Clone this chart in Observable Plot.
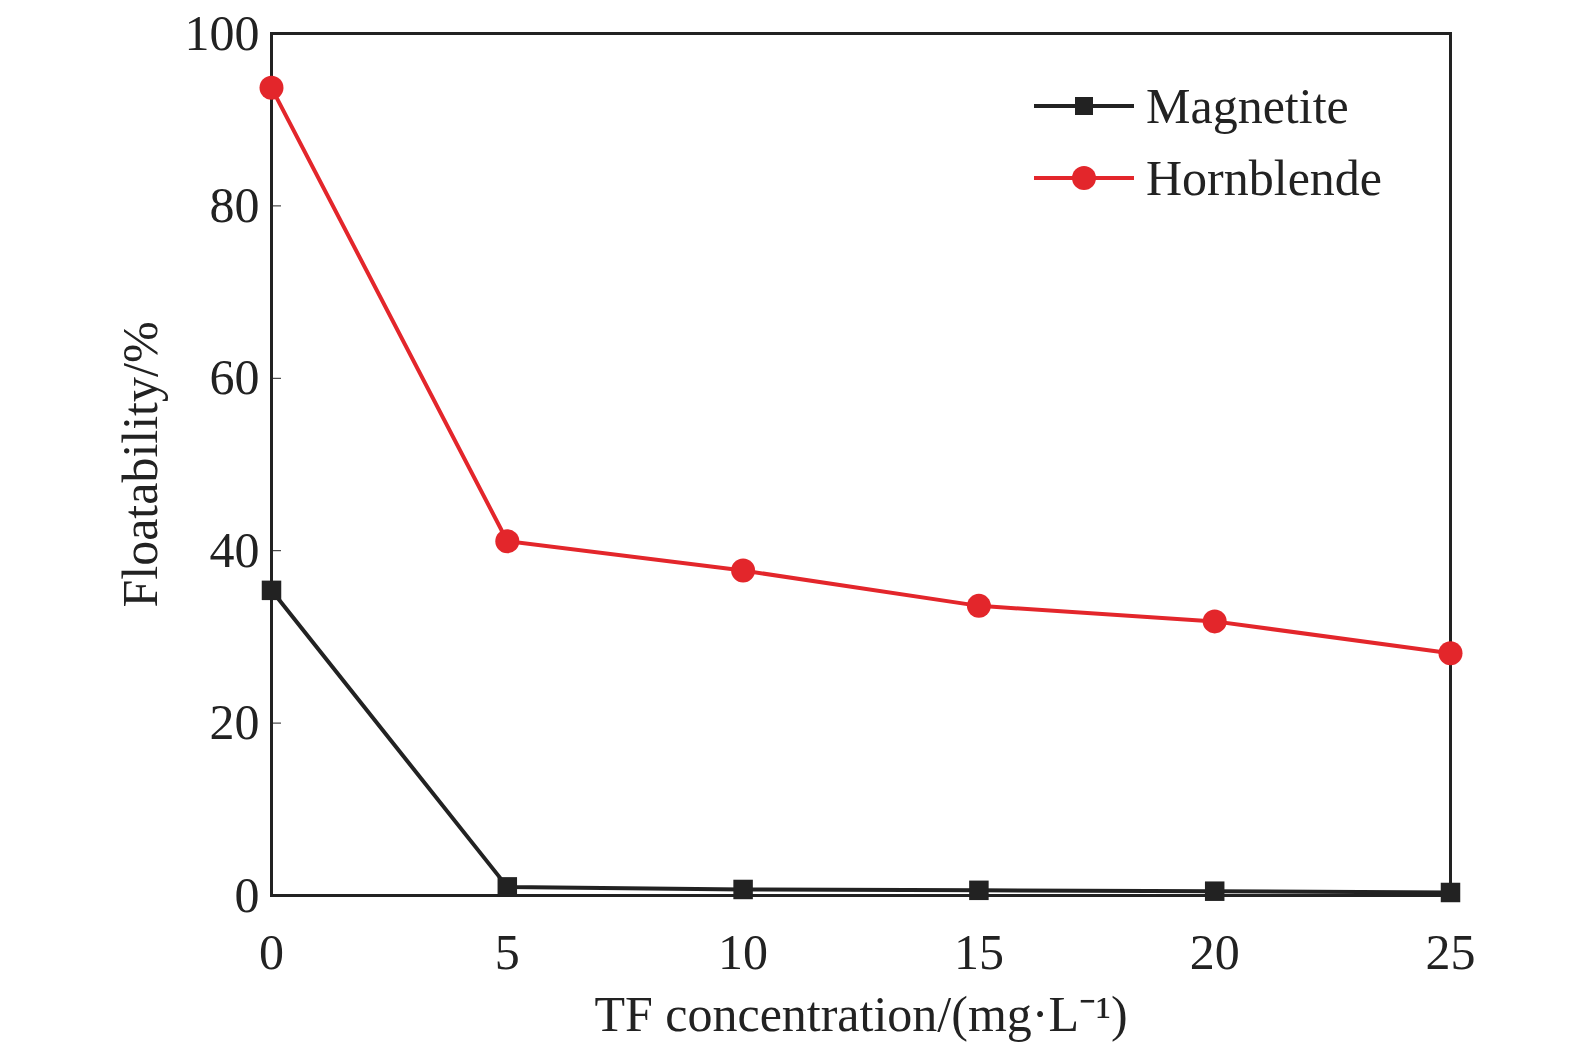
<!DOCTYPE html>
<html><head><meta charset="utf-8">
<script src="https://cdn.jsdelivr.net/npm/d3@7"></script>
<script src="https://cdn.jsdelivr.net/npm/@observablehq/plot@0.6"></script>
<style>
body{margin:0;background:#fff;font-family:"Liberation Serif",serif;}
#wrap{position:relative;width:1575px;height:1049px;}
#legend{position:absolute;left:1034px;top:70px;font-size:50px;color:#222;}
#legend div{display:flex;align-items:center;height:72px;}
#legend span{margin-left:12px;}
</style></head><body>
<div id="wrap"><div id="chart"></div>
<div id="legend">
<div><svg width="100" height="30"><line x1="0" y1="15" x2="100" y2="15" stroke="#222" stroke-width="4"/><rect x="41" y="6" width="18" height="18" fill="#222"/></svg><span>Magnetite</span></div>
<div><svg width="100" height="30"><line x1="0" y1="15" x2="100" y2="15" stroke="#e3262b" stroke-width="4"/><circle cx="50" cy="15" r="12" fill="#e3262b"/></svg><span>Hornblende</span></div>
</div></div>
<script>
const conc = [0,5,10,15,20,25];
const magnetite = [35.4,1.0,0.7,0.6,0.5,0.35];
const hornblende = [93.7,41.1,37.7,33.6,31.8,28.1];
const xTicks = [0,5,10,15,20,25];
const yTicks = [0,20,40,60,80,100];
const mag = conc.map((c,i)=>({x:c,y:magnetite[i]}));
const hor = conc.map((c,i)=>({x:c,y:hornblende[i]}));
const chart = Plot.plot({
  width:1575,height:1049,
  marginLeft:271,marginRight:125,marginTop:33,marginBottom:154,
  style:{fontFamily:"Liberation Serif, serif",fontSize:"50px",color:"#222",background:"#fff"},
  x:{domain:[0,25],ticks:xTicks,tickSize:-10,tickPadding:48,label:"TF concentration/(mg·L⁻¹)",labelArrow:"none",labelAnchor:"center",labelOffset:135},
  y:{domain:[0,100],ticks:yTicks,tickSize:-10,tickPadding:22,label:"Floatability/%",labelArrow:"none",labelAnchor:"center",labelOffset:150},
  marks:[
    Plot.frame({stroke:"#222",strokeWidth:3}),
    Plot.line(hor,{x:"x",y:"y",stroke:"#e3262b",strokeWidth:4}),
    Plot.dot(hor,{x:"x",y:"y",r:12,fill:"#e3262b"}),
    Plot.line(mag,{x:"x",y:"y",stroke:"#222",strokeWidth:4}),
    Plot.dot(mag,{x:"x",y:"y",symbol:"square",r:11,fill:"#222"})
  ]
});
document.getElementById("chart").appendChild(chart);
</script></body></html>
